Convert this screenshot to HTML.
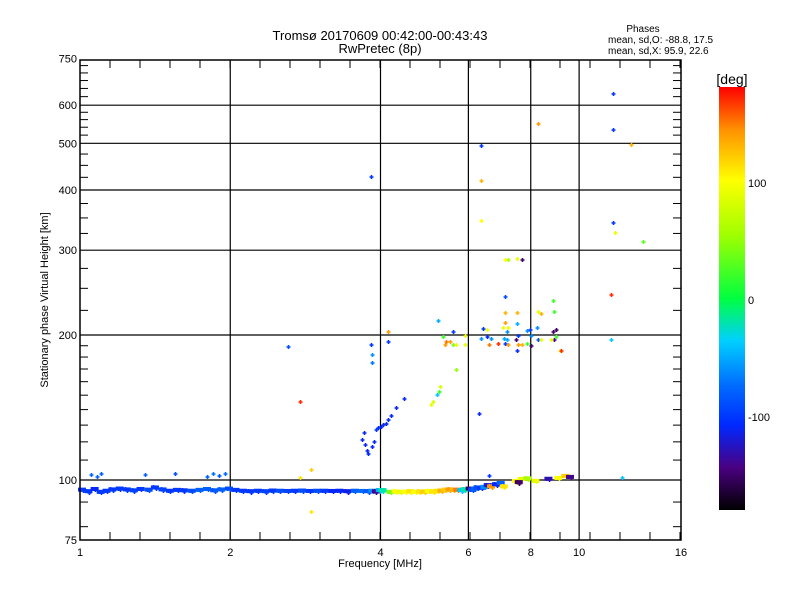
<!DOCTYPE html>
<html><head><meta charset="utf-8"><style>
body{margin:0;background:#fff;}
svg{display:block;font-family:"Liberation Sans",sans-serif;}
</style></head><body>
<svg id="chart" width="800" height="600" viewBox="0 0 800 600">
<defs>
<linearGradient id="cbar" x1="0" y1="1" x2="0" y2="0">
<stop offset="0" stop-color="#000000"/>
<stop offset="0.1" stop-color="#4a0080"/>
<stop offset="0.2" stop-color="#0028ff"/>
<stop offset="0.3" stop-color="#0070ff"/>
<stop offset="0.4" stop-color="#00d0ff"/>
<stop offset="0.5" stop-color="#00ff40"/>
<stop offset="0.65" stop-color="#a0ff00"/>
<stop offset="0.78" stop-color="#ffff00"/>
<stop offset="0.9" stop-color="#ff9000"/>
<stop offset="1" stop-color="#ff0000"/>
</linearGradient>
</defs>
<rect width="800" height="600" fill="#fff"/>
<text x="380" y="40" font-size="13" text-anchor="middle">Tromsø 20170609 00:42:00-00:43:43</text>
<text x="380" y="53" font-size="13" text-anchor="middle">RwPretec (8p)</text>
<g font-size="10">
<text x="643" y="32" text-anchor="middle">Phases</text>
<text x="608" y="43">mean, sd,O: -88.8, 17.5</text>
<text x="608" y="54">mean, sd,X:  95.9, 22.6</text>
</g>
<g id="grid"></g>
<g id="marks"></g>
<rect x="80" y="60" width="601" height="480" fill="none" stroke="#000" stroke-width="1.5"/>
<g id="axes" font-size="11"></g>
<text x="380" y="567" font-size="11" text-anchor="middle">Frequency [MHz]</text>
<text transform="translate(48,300) rotate(-90)" font-size="11" text-anchor="middle">Stationary phase Virtual Height [km]</text>
<text x="732" y="84" font-size="14" text-anchor="middle">[deg]</text>
<rect x="719" y="87" width="26" height="423" fill="url(#cbar)"/>
<g id="cbticks" font-size="11"></g>
</svg>
<script>
const xTicks=[1,2,4,6,8,10,16];
const yTicks=[75,100,200,300,400,500,600,750];
const yGrid=[100,200,300,400,500,600];
const xGrid=[2,4,6,8,10];
const yMinor=[80,90,110,120,130,140,150,160,170,180,190,225,250,275,325,350,375,425,450,475,520,540,560,580,625,650,675,700,725];
const cbTicks=[100,0,-100];
// band points (freq MHz, height km, phase deg)
const bandF=[1.00,1.03,1.06,1.09,1.12,1.15,1.19,1.23,1.27,1.31,1.36,1.40,1.45,1.50,1.55,1.60,1.66,1.72,1.78,1.84,1.90,1.97,2.03,2.10,2.17,2.25,2.33,2.41,2.49,2.58,2.67,2.76,2.86,2.96,3.06,3.17,3.28,3.40,3.52,3.64,3.75,3.82,3.88,3.95,4.00,4.15,4.25,4.35,4.45,4.55,4.65,4.75,4.85,4.95,5.05,5.15,5.25,5.35,5.45,5.55,5.65,5.75,5.85,5.98,6.05,6.12,6.20,6.30,6.40,6.50,6.60,6.75,6.90,7.00,7.40,7.60,7.50,7.80,8.10,8.60,9.00,9.30,9.50];
const bandH=[95.5,94.8,95.8,94.5,95.0,95.6,96.0,95.6,95.2,95.8,95.5,96.5,95.6,95.0,95.4,95.2,95.0,95.4,95.8,95.2,95.6,96.0,95.4,95.0,94.8,95.0,94.8,95.1,95.0,94.9,95.0,95.1,94.9,95.0,95.0,94.9,95.0,94.8,95.0,94.9,94.8,95.0,94.7,95.3,95.3,94.5,94.7,94.5,94.6,94.8,94.5,94.7,94.6,94.9,94.6,95.0,95.1,95.5,95.6,95.4,95.5,95.3,95.7,96.0,95.5,96.0,96.5,96.4,96.8,97.6,97.0,98.0,98.6,97.0,99.5,100.5,99.0,100.8,99.6,100.6,101.0,102.0,101.5];
const bandP=[-100,-100,-110,-100,-100,-100,-100,-100,-95,-100,-90,-100,-95,-100,-100,-100,-90,-80,-80,-85,-80,-90,-100,-100,-100,-100,-95,-100,-90,-95,-100,-90,-100,-90,-100,-110,-110,-115,-80,-75,-85,-60,-140,-50,-20,40,100,90,100,110,100,110,120,100,110,110,130,120,140,130,150,-40,-20,-150,-90,-80,-90,-100,-60,-120,140,-110,-80,110,100,90,-150,60,90,-130,100,120,-140];
// scattered echoes
const ptF=[1.05,1.08,1.10,1.35,1.55,1.80,1.85,1.90,1.95,2.90,2.61,2.76,2.76,2.90,3.68,3.70,3.72,3.75,3.78,3.85,3.88,3.92,3.96,4.00,4.05,4.10,4.15,4.20,4.30,4.45,3.82,3.85,3.85,4.15,4.15,5.04,5.10,5.18,5.25,5.27,5.66,5.21,5.58,5.33,5.38,5.58,5.66,5.92,5.90,6.43,6.55,6.35,6.60,6.88,7.10,7.20,7.50,7.70,7.10,7.10,7.50,7.10,7.50,7.06,7.16,7.03,7.20,7.16,6.67,6.55,7.10,7.20,7.46,7.53,7.86,7.97,8.00,8.22,8.26,8.37,8.85,8.90,9.00,8.85,8.90,8.77,9.00,9.15,7.86,8.00,7.70,7.56,8.26,8.37,7.50,6.29,6.60];
const ptH=[102.5,101.5,102.8,102.5,103.0,101.5,102.8,102.0,103.0,104.9,189,145,101,86,121,125,118,115,113,117,120,127,128,129,130,131,133,136,141,147,191,182,175,203,193,143,145,150,152,156,169,214,203,198,191,190.6,190.6,191,199,206,205,196,190.6,192,286,286,287,286,240,222,222,212,211,196,195,207,207,203,196,198,192,190.6,195,199,204,205,199,207,223,221,235,223,205,203,195,195,198,185,192,190,190.6,190.6,195,195,185,137,102];
const ptP=[-80,-80,-80,-80,-90,-80,-70,-85,-75,120,-90,170,110,110,-110,-110,-110,-110,-110,-110,-110,-100,-110,-110,-110,-110,-110,-110,-110,-110,-100,-60,-70,140,-100,90,80,-40,20,80,50,-50,-100,20,140,40,90,90,90,-100,90,-60,150,170,100,60,90,-150,-90,130,130,140,-50,-50,-50,90,90,-60,-60,-110,-100,140,-150,-100,-60,-100,-60,-60,90,130,20,20,-150,-150,-140,90,20,90,20,-150,130,140,-90,90,-110,-110,-100];
// high-altitude echoes
const topF=[11.7,11.7,8.26,12.7,6.35,6.35,6.35,11.7,11.8,13.4,3.82,11.6,11.6,12.2,9.19,5.40,5.50];
const topH=[633,533,548,496,494,418,345,342,326,312,426,242,195,101,185,193,193];
const topP=[-100,-100,140,130,-100,130,100,-100,90,30,-100,170,-40,-40,170,150,140];

const X0=80,X1=681,Y0=540,Y1=60;
function xs(f){return X0+(X1-X0)*Math.log2(f)/4;}
function ys(h){return 480-145*Math.log2(h/100);}
const NS="http://www.w3.org/2000/svg";
function mk(tag,attrs,parent){const e=document.createElementNS(NS,tag);for(const k in attrs)e.setAttribute(k,attrs[k]);parent.appendChild(e);return e;}
function phaseColor(p){
  const stops=[[-180,[0,0,0]],[-144,[74,0,128]],[-108,[0,40,255]],[-72,[0,112,255]],[-36,[0,208,255]],[0,[0,255,64]],[54,[160,255,0]],[100,[255,255,0]],[144,[255,144,0]],[180,[255,0,0]]];
  p=Math.max(-180,Math.min(180,p));
  for(let i=1;i<stops.length;i++){if(p<=stops[i][0]){const a=stops[i-1],b=stops[i];const t=(p-a[0])/(b[0]-a[0]);const c=a[1].map((v,j)=>Math.round(v+(b[1][j]-v)*t));return `rgb(${c[0]},${c[1]},${c[2]})`;}}
  return "rgb(255,0,0)";
}
const grid=document.getElementById('grid');
yGrid.forEach(v=>{const l=mk('line',{x1:X0,x2:X1,y1:ys(v),y2:ys(v),stroke:'#000','stroke-width':1.2},grid);

});
xGrid.forEach(v=>{const l=mk('line',{x1:xs(v),x2:xs(v),y1:Y0,y2:Y1,stroke:'#000','stroke-width':1.2},grid);

});
const axes=document.getElementById('axes');
yMinor.forEach(v=>{
  const a=mk('line',{x1:X0,x2:X0+8,y1:ys(v),y2:ys(v),stroke:'#000'},axes);
  
  
  const b=mk('line',{x1:X1-8,x2:X1,y1:ys(v),y2:ys(v),stroke:'#000'},axes);
  
  
});
for(let px=X0+30;px<X1;px+=30){
  const a=mk('line',{x1:px,x2:px,y1:Y1,y2:Y1+8,stroke:'#000'},axes);
  
  
  const b=mk('line',{x1:px,x2:px,y1:Y0,y2:Y0-8,stroke:'#000'},axes);
  
  
}
yTicks.forEach(v=>{const t=mk('text',{x:X0-3,y:ys(v)+4,'text-anchor':'end'},axes);t.textContent=v;

});
xTicks.forEach(v=>{const t=mk('text',{x:xs(v),y:556,'text-anchor':'middle'},axes);t.textContent=v;

});
const cbt=document.getElementById('cbticks');
cbTicks.forEach(v=>{const t=mk('text',{x:748,y:300-v*1.17+4},cbt);t.textContent=v;

});
const marks=document.getElementById('marks');
function plus(f,h,p,name){
  const x=Math.round(xs(f)),y=Math.round(ys(h)),c=phaseColor(p);
  const g=mk('path',{d:`M${x-1.5} ${y}h4M${x+0.5} ${y-2}v4`,stroke:c,'stroke-width':1.6,fill:'none'},marks);
  
  
}
bandF.forEach((f,i)=>{
  plus(f,bandH[i],bandP[i],'trace-point');
  plus(f*1.012,bandH[i]*0.993,bandP[i],'trace-point');
  const r=mk('rect',{x:xs(f)-2,y:ys(bandH[i])-2,width:8,height:4,fill:phaseColor(bandP[i])},marks);
  
  
});
ptF.forEach((f,i)=>plus(f,ptH[i],ptP[i],'echo-point'));
topF.forEach((f,i)=>plus(f,topH[i],topP[i],'high-echo-point'));
</script>
</body></html>
